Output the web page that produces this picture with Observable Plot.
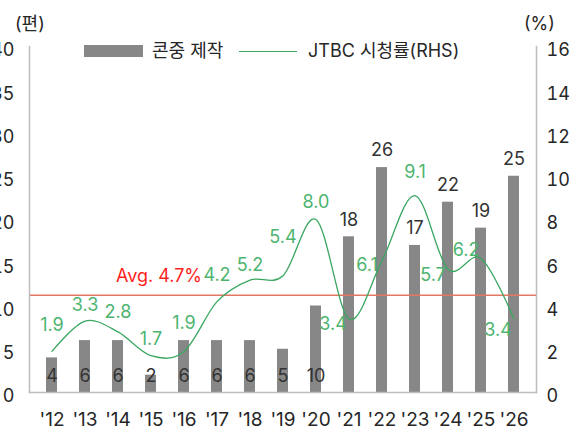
<!DOCTYPE html>
<html><head><meta charset="utf-8">
<script src="https://cdn.jsdelivr.net/npm/d3@7"></script>
<script src="https://cdn.jsdelivr.net/npm/@observablehq/plot@0.6"></script>
<style>
body{margin:0;background:#fff;font-family:Inter,"Noto Sans CJK KR",sans-serif;color:#262626;}
#wrap{position:relative;width:579px;height:434px;}
#wrap svg{position:absolute;left:0;top:0;}
.ov{position:absolute;font-size:18px;line-height:1;white-space:nowrap;}
</style></head><body><div id="wrap"></div>
<script>
const yearLabels = ["'12","'13","'14","'15","'16","'17","'18","'19","'20","'21","'22","'23","'24","'25","'26"];
const contentCounts = [4, 6, 6, 2, 6, 6, 6, 5, 10, 18, 26, 17, 22, 19, 25];
const jtbcRatings = [1.9, 3.3, 2.8, 1.7, 1.9, 4.2, 5.2, 5.4, 8.0, 3.4, 6.1, 9.1, 5.7, 6.2, 3.4];
const avgLabel = "Avg. 4.7%";
const avgRuleAt = 4.5;
const seriesNames = ["콘중 제작", "JTBC 시청률(RHS)"];
const unitLeft = "(편)", unitRight = "(%)";

// label placement offsets (layout only)
const ratingLabelOffsets = [[0,-26],[0,-16],[0,-20],[0,-17],[0,-28],[0,-26],[0,-15],[0,-38],[0,-17],[-16,5],[-15,5],[0,-23],[-15,6],[-15,-8],[-16,11]];

const rows = yearLabels.map((year, i) => ({year, count: contentCounts[i], rating: jtbcRatings[i]}));
const k = 40 / 16;
const FONT = 'Inter,"Noto Sans CJK KR",sans-serif';
const GREEN_TXT = "#4db46f", GREEN_LINE = "#3aa760", BAR = "#878787", TXT = "#262626";

const ratingLabels = rows.map((r, i) => Plot.text([r], {
  x: "year", y: d => d.rating * k, text: d => d.rating.toFixed(1),
  dx: ratingLabelOffsets[i][0], dy: ratingLabelOffsets[i][1], fill: GREEN_TXT, fontSize: 18
}));

const chart = Plot.plot({
  width: 579, height: 434,
  marginTop: 46, marginBottom: 42, marginLeft: 29, marginRight: 43,
  style: {fontFamily: FONT, fontSize: "18px", color: TXT, background: "transparent", overflow: "visible"},
  x: {domain: yearLabels, paddingInner: 0.66, paddingOuter: 0.43, label: null},
  y: {domain: [0, 40], label: null},
  marks: [
    Plot.barY(rows, {x: "year", y: "count", fill: BAR}),
    Plot.ruleY([avgRuleAt * k], {stroke: "#e27763", strokeWidth: 1.6}),
    Plot.line(rows, {x: "year", y: d => d.rating * k, curve: "cardinal", stroke: GREEN_LINE, strokeWidth: 1.3}),
    Plot.text(rows.filter(d => d.count <= 10), {x: "year", y: 0, text: d => String(d.count), dy: -16, fill: "#333", fontSize: 18}),
    Plot.text(rows.filter(d => d.count > 10), {x: "year", y: "count", text: d => String(d.count), dy: -17, fill: "#333", fontSize: 18}),
    ...ratingLabels,
    Plot.text([{label: avgLabel, year: yearLabels[5]}], {x: "year", y: () => avgRuleAt * k, text: "label", textAnchor: "end", dx: -15, dy: -19, fill: "#ff1f1f", fontSize: 18}),
    Plot.frame({anchor: "left", stroke: "#bdbdbd", strokeWidth: 1.5}),
    Plot.frame({anchor: "right", stroke: "#bdbdbd", strokeWidth: 1.5}),
    Plot.frame({anchor: "bottom", stroke: "#bdbdbd", strokeWidth: 1.5}),
    Plot.axisY(d3.range(0, 41, 5), {anchor: "left", tickSize: 0, tickPadding: 15, dy: 4, fill: TXT, fontSize: 18, label: null}),
    Plot.axisY(d3.range(0, 17, 2).map(v => v * k), {anchor: "right", tickSize: 0, tickPadding: 10, dy: 4, tickFormat: d => String(Math.round(d / k)), fill: TXT, fontSize: 18, label: null}),
    Plot.axisX({tickSize: 0, tickPadding: 20, fill: TXT, fontSize: 19, label: null})
  ]
});
const wrap = document.getElementById("wrap");
wrap.appendChild(chart);

function ov(html, css) { const d = document.createElement("div"); d.className = "ov"; d.innerHTML = html; Object.assign(d.style, css); wrap.appendChild(d); return d; }
ov(unitLeft, {left: "15px", top: "15px"});
ov(unitRight, {left: "524px", top: "15px"});
ov("", {left: "84px", top: "45px", width: "59px", height: "12px", background: BAR});
ov(seriesNames[0], {left: "152px", top: "42px"});
ov("", {left: "239px", top: "51px", width: "58px", height: "0", borderTop: "1.5px solid " + GREEN_LINE});
ov(seriesNames[1], {left: "308px", top: "42px"});
</script></body></html>
